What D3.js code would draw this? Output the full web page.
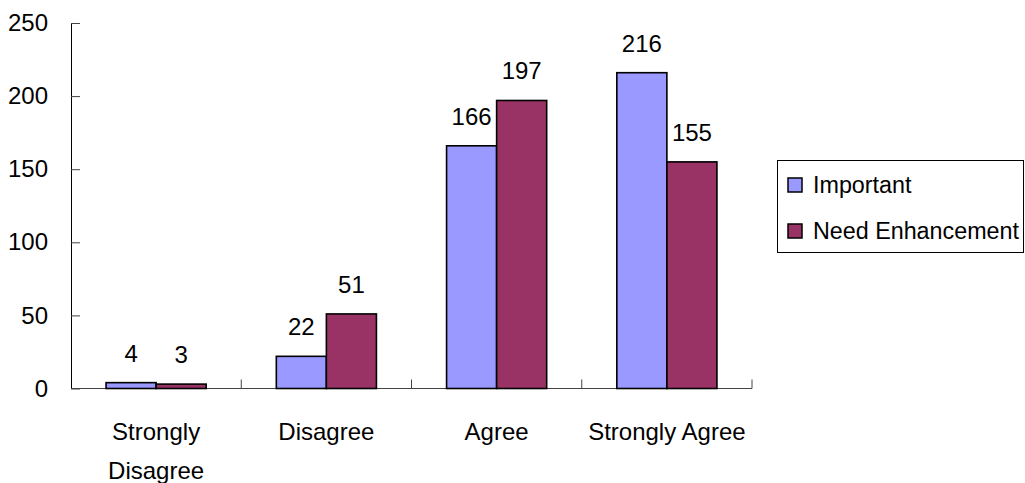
<!DOCTYPE html>
<html>
<head>
<meta charset="utf-8">
<script src="https://cdn.jsdelivr.net/npm/d3@7"></script>
<style>
  body { margin: 0; background: #fff; }
  text { font-family: "Liberation Sans", Arial, sans-serif; fill: #000; }
</style>
</head>
<body>
<div id="chart"></div>
<script>
var categories = ["Strongly Disagree", "Disagree", "Agree", "Strongly Agree"];
var seriesNames = ["Important", "Need Enhancement"];
var important = [4, 22, 166, 216];
var needEnhancement = [3, 51, 197, 155];
var yTicks = [0, 50, 100, 150, 200, 250];
var colors = ["#9999ff", "#993366"];

var width = 1025, height = 483;
var plot = { left: 71, right: 752, top: 23, bottom: 388.5 };

var svg = d3.select("#chart").append("svg")
  .attr("width", width)
  .attr("height", height);

var rows = categories.map(function (c, i) {
  return { cat: c, values: [important[i], needEnhancement[i]] };
});

var x0 = d3.scaleBand().domain(categories).range([plot.left, plot.right]).padding(0);
var bw = x0.bandwidth();
var x1 = d3.scaleBand().domain(seriesNames).range([bw * 0.206, bw * 0.794]).padding(0);
var y = d3.scaleLinear().domain([0, 250]).range([plot.bottom, plot.top]);

// y axis
var yAxis = d3.axisLeft(y).tickValues(yTicks).tickSizeInner(-9).tickSizeOuter(0).tickPadding(23);
var yg = svg.append("g")
  .attr("transform", "translate(" + plot.left + ",0)")
  .call(yAxis);
yg.select(".domain").attr("stroke", "#000");
yg.selectAll(".tick line").attr("stroke", "#444");
yg.selectAll(".tick text")
  .style("font-size", "24px")
  .style("font-family", "'Liberation Sans', Arial, sans-serif")
  .attr("fill", "#000");

// x axis line + boundary ticks
var xg = svg.append("g");
xg.append("line")
  .attr("x1", plot.left).attr("x2", plot.right)
  .attr("y1", y(0)).attr("y2", y(0))
  .attr("stroke", "#444");
xg.selectAll(".xtick")
  .data(categories)
  .enter()
  .append("line")
  .attr("class", "xtick")
  .attr("x1", function (d) { return x0(d) + bw; })
  .attr("x2", function (d) { return x0(d) + bw; })
  .attr("y1", y(0))
  .attr("y2", y(0) - 9)
  .attr("stroke", "#444");

// bars
var groups = svg.selectAll(".grp")
  .data(rows)
  .enter()
  .append("g")
  .attr("class", "grp")
  .attr("transform", function (d) { return "translate(" + x0(d.cat) + ",0)"; });

groups.selectAll("rect")
  .data(function (d) { return d.values.map(function (v, i) { return { s: seriesNames[i], v: v, i: i }; }); })
  .enter()
  .append("rect")
  .attr("x", function (d) { return x1(d.s); })
  .attr("y", function (d) { return y(d.v); })
  .attr("width", x1.bandwidth())
  .attr("height", function (d) { return y(0) - y(d.v); })
  .attr("fill", function (d) { return colors[d.i]; })
  .attr("stroke", "#000")
  .attr("stroke-width", 1.6);

groups.selectAll(".val")
  .data(function (d) { return d.values.map(function (v, i) { return { s: seriesNames[i], v: v }; }); })
  .enter()
  .append("text")
  .attr("class", "val")
  .attr("x", function (d) { return x1(d.s) + x1.bandwidth() / 2; })
  .attr("y", function (d) { return y(d.v) - 21; })
  .attr("text-anchor", "middle")
  .style("font-size", "24px")
  .text(function (d) { return d.v; });

// category labels, wrapped if wider than the band
var catText = svg.selectAll(".cat")
  .data(categories)
  .enter()
  .append("text")
  .attr("class", "cat")
  .attr("text-anchor", "middle")
  .style("font-size", "24px")
  .attr("x", function (d) { return x0(d) + bw / 2; })
  .attr("y", 440)
  .text(function (d) { return d; });

catText.each(function (d) {
  var t = d3.select(this);
  if (this.getComputedTextLength() > bw - 4) {
    var words = d.split(" ");
    t.text(null);
    words.forEach(function (w, i) {
      t.append("tspan")
        .attr("x", x0(d) + bw / 2)
        .attr("dy", i === 0 ? 0 : 39)
        .text(w);
    });
  }
});

// legend
var legend = svg.append("g").attr("class", "legend");
legend.append("rect")
  .attr("x", 777.5).attr("y", 160.5)
  .attr("width", 246).attr("height", 92)
  .attr("fill", "#fff")
  .attr("stroke", "#000");

var items = legend.selectAll(".item")
  .data(seriesNames)
  .enter()
  .append("g")
  .attr("class", "item")
  .attr("transform", function (d, i) { return "translate(0," + (i * 46) + ")"; });

items.append("rect")
  .attr("x", 788).attr("y", 178)
  .attr("width", 14).attr("height", 14)
  .attr("fill", function (d, i) { return colors[i]; })
  .attr("stroke", "#000")
  .attr("stroke-width", 1.5);

items.append("text")
  .attr("x", 813)
  .attr("y", 193)
  .style("font-size", "23.3px")
  .text(function (d) { return d; });
</script>
</body>
</html>
